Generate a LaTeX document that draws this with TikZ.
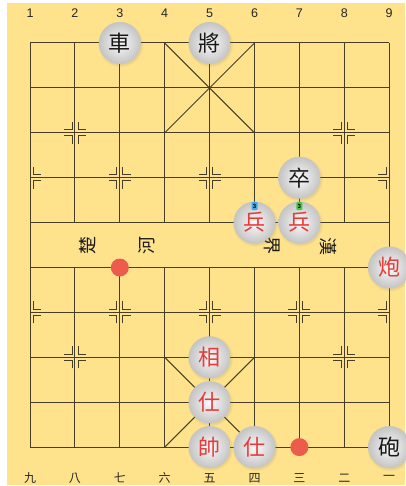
\documentclass[tikz,border=0pt]{standalone}
\usepackage{fontspec}
\setmainfont{Liberation Sans}
\newfontfamily\cjk{Noto Sans CJK TC}
\usetikzlibrary{shadows}
\definecolor{boardbg}{RGB}{254,226,140}
\definecolor{gridline}{RGB}{72,62,40}
\definecolor{redtxt}{RGB}{232,58,58}
\definecolor{dotred}{RGB}{236,92,76}
\definecolor{piecein}{RGB}{250,250,250}
\definecolor{pieceout}{RGB}{196,196,196}
\definecolor{badgeblue}{RGB}{60,170,230}
\definecolor{badgegreen}{RGB}{70,200,70}
\begin{document}
\begin{tikzpicture}[x=1pt,y=-1pt,
  grid/.style={draw=gridline,line width=1pt},
  markstyle/.style={draw=gridline,line width=1pt},
  piece/.style={circle,minimum size=42pt,inner sep=0pt,shading=radial,
    inner color=piecein,outer color=pieceout,
    font=\cjk\fontsize{22}{22}\selectfont,
    circular drop shadow={shadow xshift=0.6pt,shadow yshift=-1pt,opacity=0.2}},
  redp/.style={piece,text=redtxt},
  blackp/.style={piece,text=black!90},
  dot/.style={circle,fill=dotred,minimum size=18pt,inner sep=0pt},
  numtop/.style={font=\fontsize{12.5}{12.5}\selectfont,text=black!85},
  numbot/.style={font=\cjk\fontsize{12}{12}\selectfont,text=black!85},
  river/.style={font=\cjk\fontsize{18}{18}\selectfont,text=black!90},
  badge/.style={rounded corners=1pt,minimum width=6pt,minimum height=8pt,inner sep=0pt,
    font=\fontsize{6}{6}\selectfont\bfseries,text=black}
]
\useasboundingbox (0,0) rectangle (405,486);
\fill[white] (0,0) rectangle (405,486);
\fill[boardbg] (7,3) rectangle (405,485);

% grid
\foreach \i in {0,...,9}
  \draw[grid] (30,43+44.9*\i) -- (389.2,43+44.9*\i);
\foreach \j in {0,8}
  \draw[grid] (30+44.9*\j,43) -- (30+44.9*\j,447.1);
\foreach \j in {1,...,7}{
  \draw[grid] (30+44.9*\j,43) -- (30+44.9*\j,222.6);
  \draw[grid] (30+44.9*\j,267.5) -- (30+44.9*\j,447.1);
}
% palaces
\draw[grid] (164.7,43) -- (254.5,132.8);
\draw[grid] (254.5,43) -- (164.7,132.8);
\draw[grid] (164.7,357.3) -- (254.5,447.1);
\draw[grid] (254.5,357.3) -- (164.7,447.1);

% position marks
\foreach \px/\py/\l/\r in {75/132.8/1/1, 344.3/132.8/1/1,
  30/177.7/0/1, 119.8/177.7/1/1, 209.6/177.7/1/1, 299.4/177.7/1/1, 389.2/177.7/1/0,
  30/312.4/0/1, 119.8/312.4/1/1, 209.6/312.4/1/1, 299.4/312.4/1/1, 389.2/312.4/1/0,
  75/357.3/1/1, 344.3/357.3/1/1}{
  \ifnum\l=1
    \draw[markstyle] (\px-3,\py-11) -- (\px-3,\py-3) -- (\px-11,\py-3);
    \draw[markstyle] (\px-3,\py+11) -- (\px-3,\py+3) -- (\px-11,\py+3);
  \fi
  \ifnum\r=1
    \draw[markstyle] (\px+3,\py-11) -- (\px+3,\py-3) -- (\px+11,\py-3);
    \draw[markstyle] (\px+3,\py+11) -- (\px+3,\py+3) -- (\px+11,\py+3);
  \fi
}

% file numbers
\foreach \n [count=\k from 0] in {1,...,9}
  \node[numtop] (t\n) at (30+44.9*\k,13) {\n};
\foreach \n [count=\k from 0] in {九,八,七,六,五,四,三,二,一}
  \node[numbot] (b\k) at (30+44.9*\k,478) {\n};

% river text
\node[river,rotate=90] (chu) at (88,245) {楚};
\node[river,rotate=90] (he) at (147,245) {河};
\node[river,rotate=-90] (jie) at (272,245) {界};
\node[river,rotate=-90] (han) at (328,246) {漢};

% markers
\node[dot] (d1) at (119.8,267.5) {};
\node[dot] (d2) at (299.4,447.1) {};

% black pieces
\node[blackp] (ju) at (119.8,43) {車};
\node[blackp] (jiang) at (209.6,43) {將};
\node[blackp] (zu) at (299.4,177.7) {卒};
\node[blackp] (pao) at (389.2,447.1) {砲};

% red pieces
\node[redp] (bing1) at (254.5,222.6) {兵};
\node[redp] (bing2) at (299.4,222.6) {兵};
\node[redp] (paor) at (389.2,267.5) {炮};
\node[redp] (xiang) at (209.6,357.3) {相};
\node[redp] (shi1) at (209.6,402.2) {仕};
\node[redp] (shuai) at (209.6,447.1) {帥};
\node[redp] (shi2) at (254.5,447.1) {仕};

% badges
\node[badge,fill=badgeblue] (bg1) at (254.5,206) {3};
\node[badge,fill=badgegreen] (bg2) at (299.4,206) {3};
\end{tikzpicture}
\end{document}
